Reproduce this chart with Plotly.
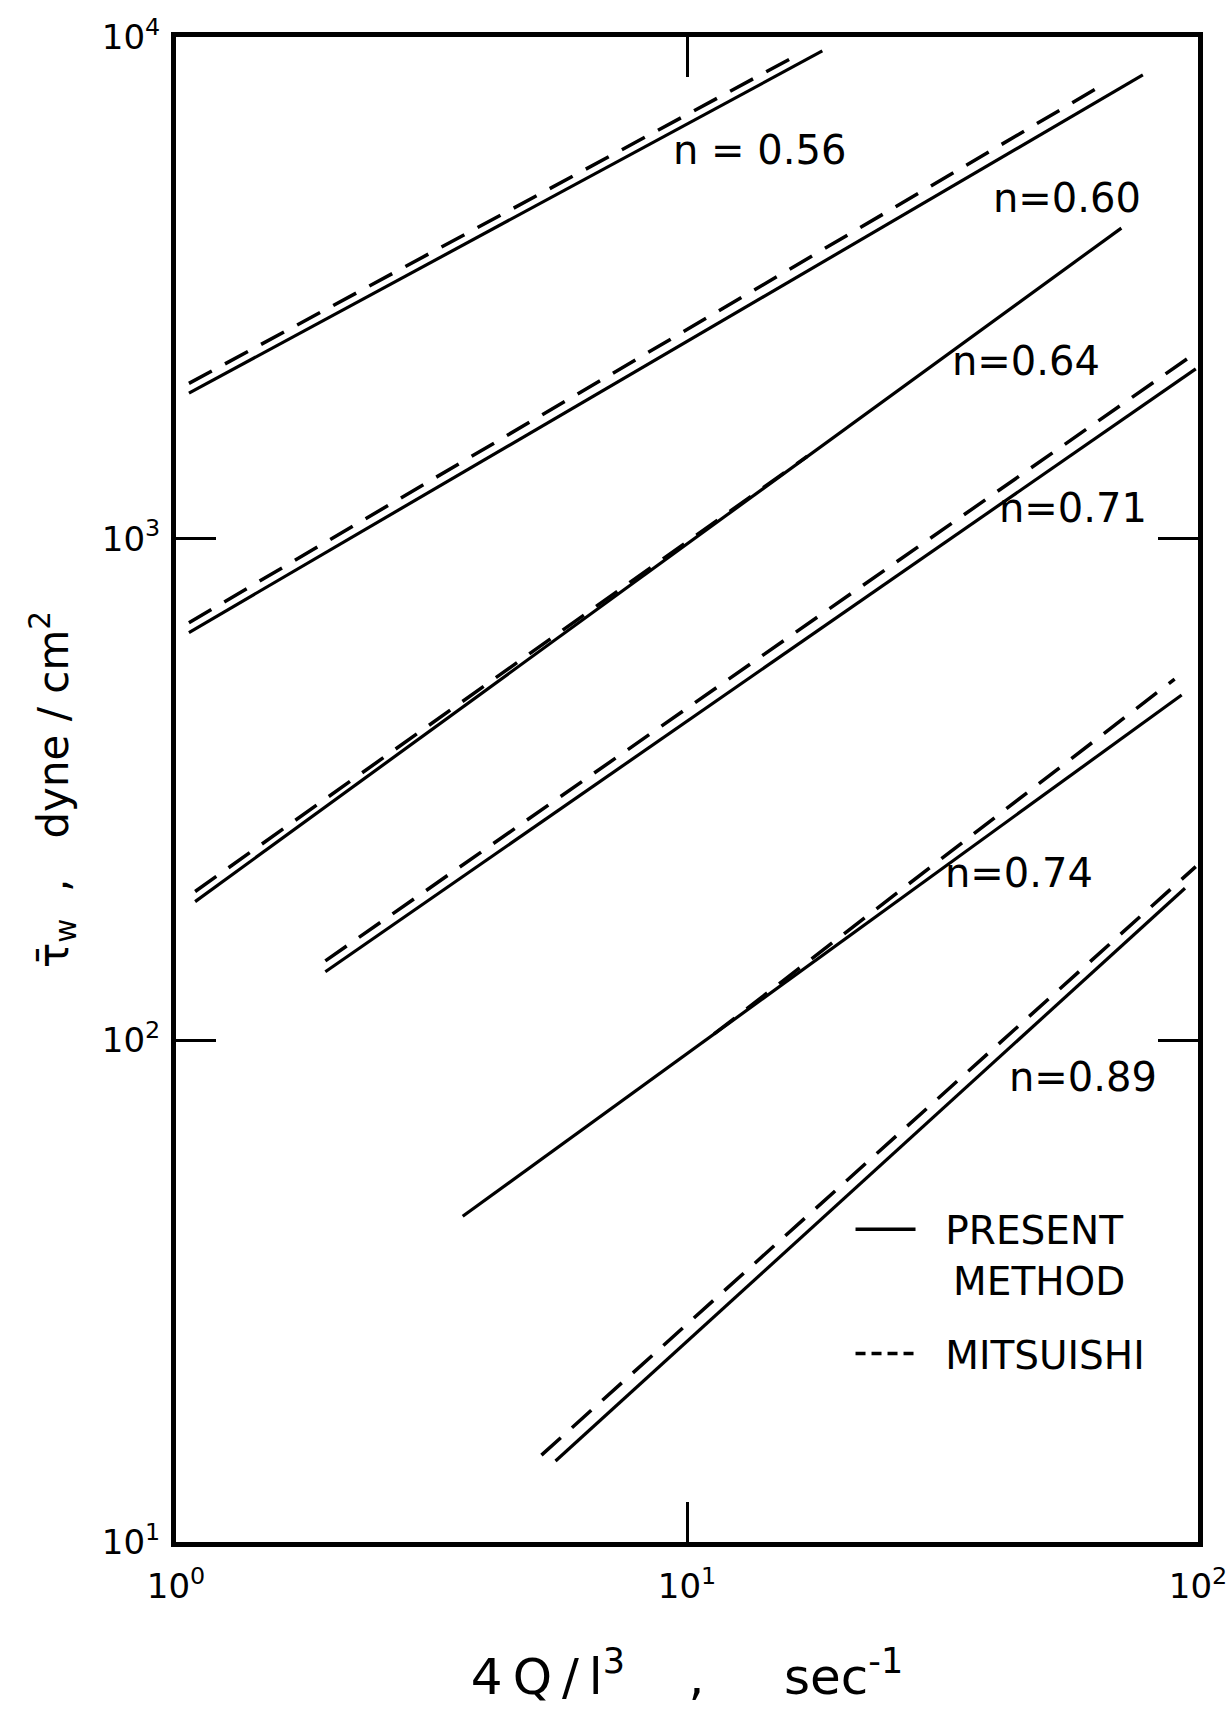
import plotly.graph_objects as go

# Wall shear stress vs. apparent shear rate, log-log, for several flow indices n
n_values = [0.56, 0.60, 0.64, 0.71, 0.74, 0.89]
n_labels = ["n = 0.56", "n=0.60", "n=0.64", "n=0.71", "n=0.74", "n=0.89"]

# Present method (solid lines): end points of each straight line
present_x0 = [1.06, 1.06, 1.09, 1.96, 3.64, 5.53]
present_x1 = [18.4, 78.0, 70.8, 99.0, 92.9, 94.3]
present_y0 = [1950, 650, 189, 137, 44.6, 14.5]
present_y1 = [9380, 8400, 4160, 2180, 488, 201]

# Mitsuishi (dashed lines): end points of each straight line
mitsu_x0 = [1.06, 1.06, 1.09, 1.96, 11.3, 5.19]
mitsu_x1 = [15.9, 65.0, 17.2, 98.0, 90.0, 99.0]
mitsu_y0 = [2040, 680, 198, 144, 103, 14.9]
mitsu_y1 = [9040, 8020, 1460, 2330, 525, 222]

x_ticks = [1, 10, 100]
x_ticktext = ["10<sup>0</sup>", "10<sup>1</sup>", "10<sup>2</sup>"]
y_ticks = [10, 100, 1000, 10000]
y_ticktext = ["10<sup>1</sup>", "10<sup>2</sup>", "10<sup>3</sup>", "10<sup>4</sup>"]

# label anchor positions (paper fraction)
label_px = [0.571, 0.872, 0.832, 0.878, 0.825, 0.887]
label_py = [0.925, 0.893, 0.785, 0.687, 0.4445, 0.309]

FONT = "DejaVu Sans, Verdana, sans-serif"
INK = "black"
NB = "\u00a0"
T = "\u2009"

fig = go.Figure()

for i, n in enumerate(n_values):
    fig.add_trace(go.Scatter(
        x=[mitsu_x0[i], mitsu_x1[i]], y=[mitsu_y0[i], mitsu_y1[i]],
        mode="lines", line=dict(color=INK, width=3.5, dash="26px,15px"),
        name=f"Mitsuishi n={n}", legendgroup="m", showlegend=False, hoverinfo="skip"))
    fig.add_trace(go.Scatter(
        x=[present_x0[i], present_x1[i]], y=[present_y0[i], present_y1[i]],
        mode="lines", line=dict(color=INK, width=3.2),
        name=f"Present n={n}", legendgroup="p", showlegend=False, hoverinfo="skip"))

# legend entries
fig.add_trace(go.Scatter(x=[None], y=[None], mode="lines",
                         line=dict(color=INK, width=3.5),
                         name=f"{NB*2}PRESENT<br>{NB*2}{T}METHOD",
                         legendgroup="p", showlegend=True))
fig.add_trace(go.Scatter(x=[None], y=[None], mode="lines",
                         line=dict(color=INK, width=3.5, dash="10px,6px"),
                         name=f"{NB*2}MITSUISHI", legendgroup="m", showlegend=True))

for txt, px, py in zip(n_labels, label_px, label_py):
    fig.add_annotation(text=txt, x=px, y=py, xref="paper", yref="paper",
                       showarrow=False, font=dict(family=FONT, size=40, color=INK),
                       xanchor="center", yanchor="middle")

axis_common = dict(
    type="log", showline=True, linewidth=5, linecolor=INK, mirror="ticks",
    ticks="inside", ticklen=40, tickwidth=3, tickcolor=INK,
    showgrid=False, zeroline=False, automargin=False,
    ticklabeloverflow="allow",
    tickfont=dict(family=FONT, size=34, color=INK),
)

fig.update_xaxes(range=[0, 2], tickvals=x_ticks, ticktext=x_ticktext,
                 ticklabelstandoff=10,
                 title=dict(text=f"4{T}Q{T}/{T}l<sup>3</sup>{NB*4},{NB*5}sec<sup>-1</sup>",
                            font=dict(family=FONT, size=50, color=INK), standoff=56),
                 **axis_common)
fig.update_yaxes(range=[1, 4], tickvals=y_ticks, ticktext=y_ticktext,
                 ticklabelstandoff=4,
                 title=dict(text=f"τ\u0304<sub>w</sub>{NB*2},{NB*3}dyne / cm<sup>2</sup>",
                            font=dict(family=FONT, size=42, color=INK), standoff=22),
                 **axis_common)

fig.update_layout(
    width=1227, height=1712,
    margin=dict(l=176, r=29, t=37, b=170, autoexpand=False),
    paper_bgcolor="white", plot_bgcolor="white",
    showlegend=True,
    legend=dict(x=0.66, y=0.229, xanchor="left", yanchor="top",
                font=dict(family=FONT, size=39, color=INK),
                bgcolor="rgba(0,0,0,0)", itemwidth=60, valign="top",
                tracegroupgap=20, traceorder="grouped"),
)

fig.write_html("out.html")
